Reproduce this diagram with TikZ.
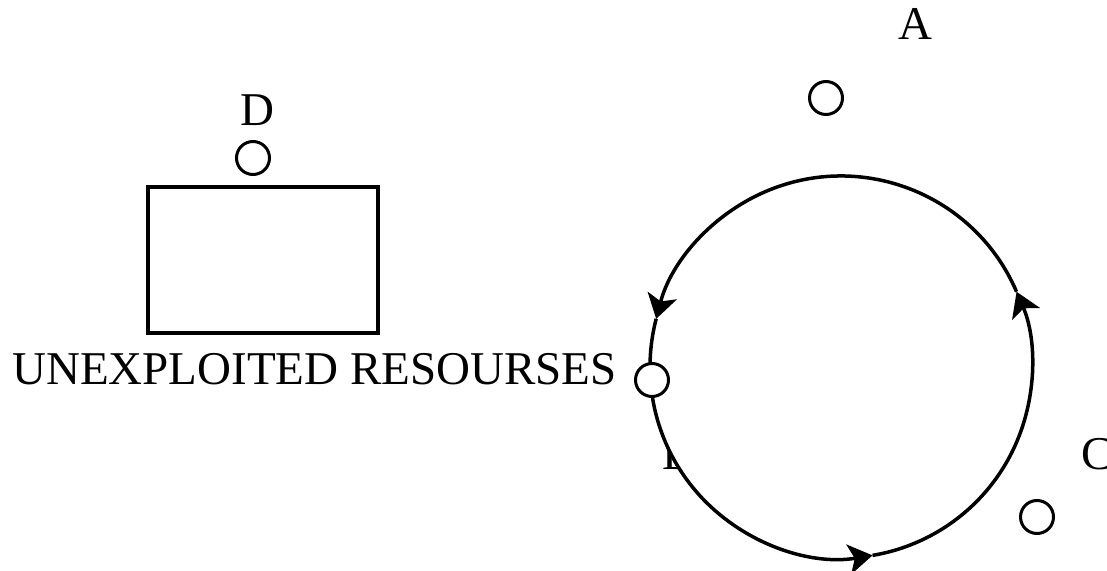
\documentclass[tikz,border=0pt]{standalone}
\usepackage{fontspec}
\setmainfont{Liberation Serif}
\usetikzlibrary{arrows.meta}
\begin{document}
\begin{tikzpicture}[x=1pt,y=1pt,
  lbl/.style={font=\fontsize{47}{50}\selectfont, inner sep=0pt, anchor=base},
  port/.style={circle, draw, line width=3pt, fill=white, minimum size=33pt, inner sep=0pt},
  loopline/.style={line width=3.5pt},
  looptip/.style={-{Stealth[length=24pt,width=30pt,inset=6pt]}}
]
\useasboundingbox (0,0) rectangle (1107,570);
% labels
\node[lbl, anchor=base west] (res) at (12,185) {UNEXPLOITED RESOURSES};
\node[lbl] (lD) at (257,444) {D};
\node[lbl] (lA) at (915,530) {A};
\node[lbl] (lC) at (1097,100) {C};
\node[lbl, anchor=base west] (lB) at (662,100) {B};
% stock box
\node[draw, line width=3.5pt, minimum width=230pt, minimum height=146pt, inner sep=0pt] (box) at (262.75,310) {};
% loop
\coordinate (c) at (841,203);
\fill[white] (c) circle[radius=191];
\draw[loopline, looptip] ([shift={(23.2:191)}]c) arc[start angle=23.2, end angle=165.4, radius=191];
\draw[loopline, looptip] ([shift={(165.4:191)}]c) arc[start angle=165.4, end angle=279.5, radius=191];
\draw[loopline, looptip] ([shift={(279.5:191)}]c) arc[start angle=279.5, end angle=383.2, radius=191];
% small circles
\node[port] (pA) at (826,472) {};
\node[port] (pD) at (253,412) {};
\node[port] (pR) at (652,190) {};
\node[port] (pC) at (1037,53) {};
\end{tikzpicture}
\end{document}
